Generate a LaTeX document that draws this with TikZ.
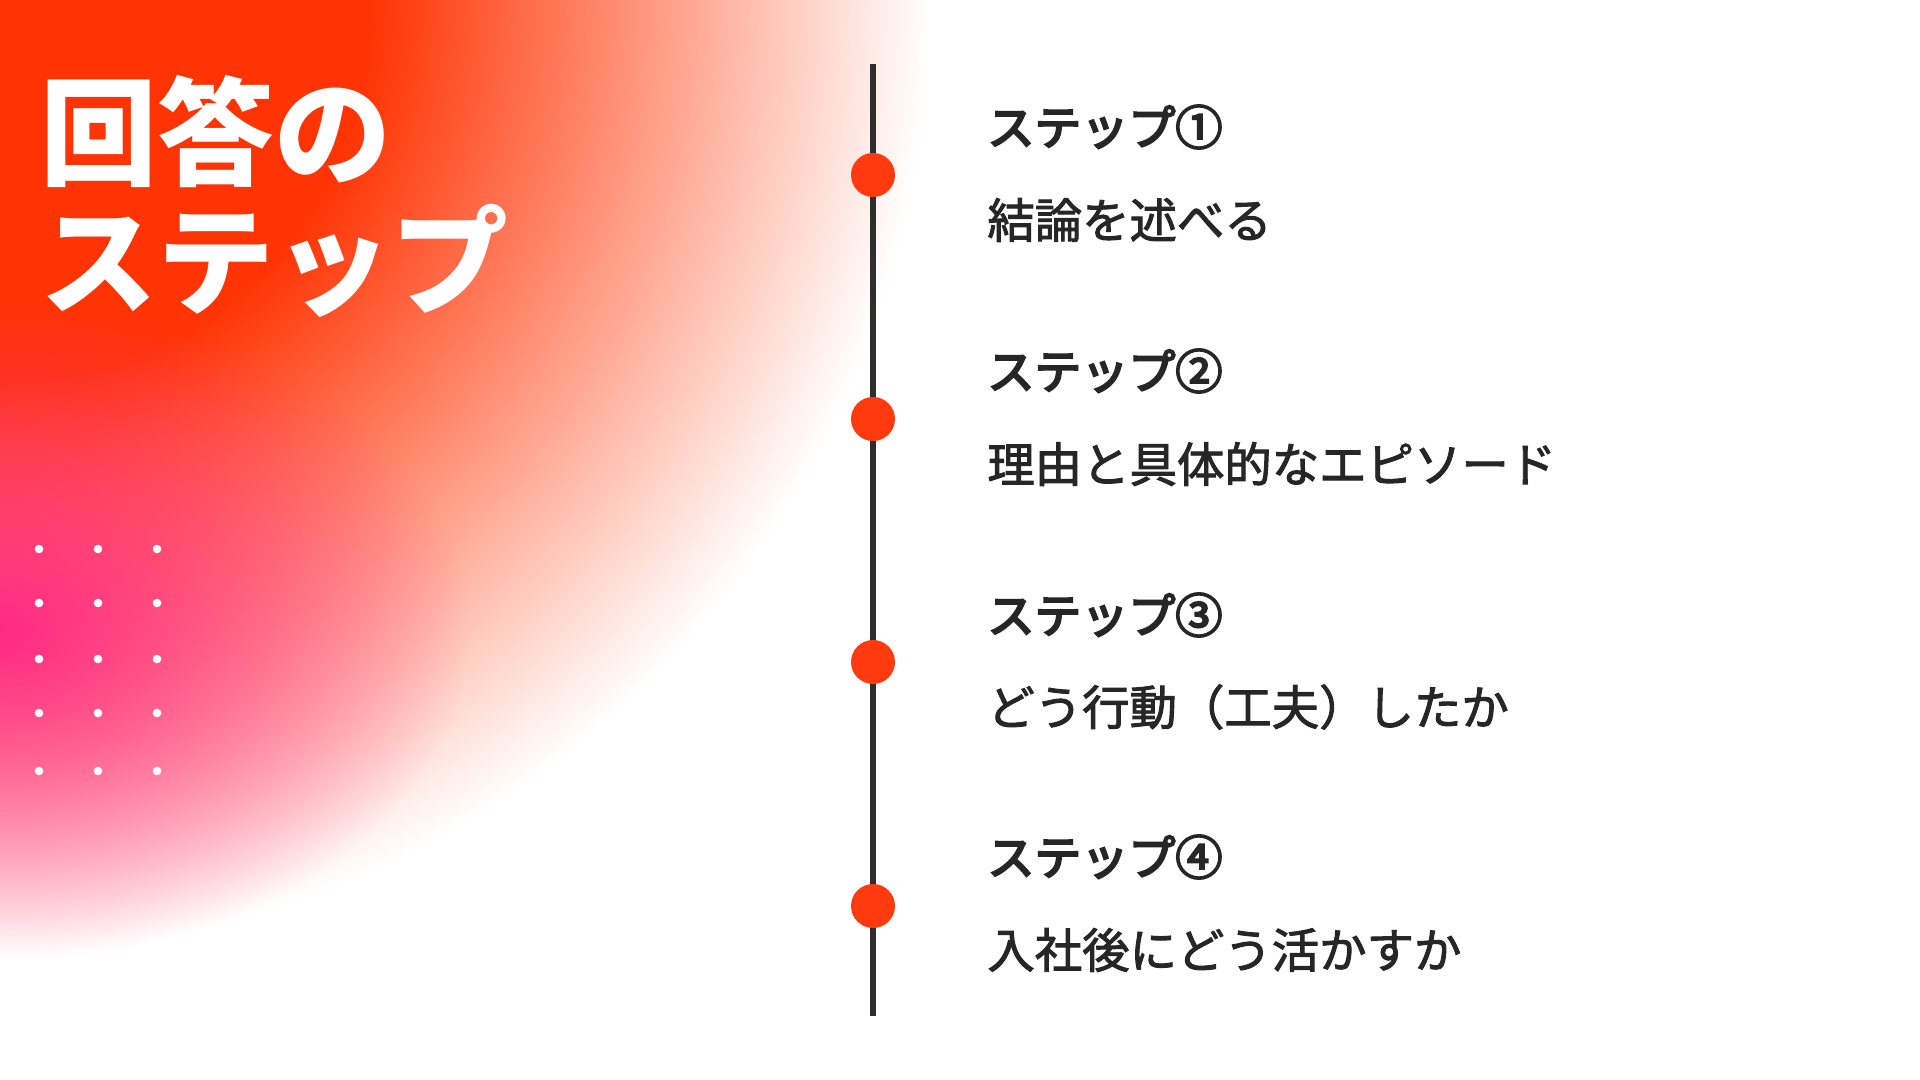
\documentclass[tikz,border=0pt]{standalone}
\usepackage{fontspec}
\newfontfamily\jp{Noto Sans CJK JP}
\newfontfamily\jphead[FakeBold=4.5]{Noto Sans CJK JP}
\newfontfamily\jpsub[FakeBold=2]{Noto Sans CJK JP}
\usetikzlibrary{fadings}
\definecolor{orangec}{HTML}{FF3404}
\definecolor{pinkc}{HTML}{FF2A85}
\definecolor{inkc}{HTML}{262626}
\definecolor{linec}{HTML}{2E2E2E}
\definecolor{dotc}{HTML}{FF3A0E}
\pgfdeclareradialshading{bgshade}{\pgfpoint{0bp}{0bp}}{color(0bp)=(orangec); color(10bp)=(orangec); color(25bp)=(white); color(50bp)=(white)}
\tikzfading[name=pinkfade, inner color=transparent!0, outer color=transparent!100]
\tikzset{
  stepdot/.style={circle, fill=dotc, minimum size=44pt*0.5, inner sep=0pt},
  headtxt/.style={anchor=west, inner sep=0pt, text=inkc, font=\jphead\fontsize{23.5pt}{28pt}\selectfont},
  subtxt/.style={anchor=west, inner sep=0pt, text=inkc, font=\jpsub\fontsize{23.7pt}{28pt}\selectfont},
  titletxt/.style={anchor=west, inner sep=0pt, text=white, font=\jp\bfseries\fontsize{58.5pt}{64pt}\selectfont},
  spine/.style={draw=linec, line width=3pt},
  griddot/.style={fill=white}
}
\begin{document}
\begin{tikzpicture}[x=0.5pt,y=-0.5pt]
\useasboundingbox (0,0) rectangle (1920,1080);
\fill[white] (0,0) rectangle (1920,1080);
\begin{scope}
  \clip (0,0) rectangle (1920,1080);
  \shade[shading=bgshade] (0,0) ellipse (930 and 950);
  \fill[pinkc, path fading=pinkfade] (0,630) ellipse (470 and 330);
\end{scope}
% dot grid
\foreach \gx in {39,98,157}{
  \foreach \gy in {549,603,659,713,771}{
    \fill[griddot] (\gx,\gy) circle (4.3);
  }
}
% title
\node[titletxt] (t1) at (40,132) {回答の};
\node[titletxt] (t2) at (40,261) {ステップ};
% timeline
\coordinate (ltop) at (873,64);
\coordinate (lbot) at (873,1016);
\draw[spine] (ltop) -- (lbot);
\node[stepdot] (d1) at (873,175) {};
\node[stepdot] (d2) at (873,419) {};
\node[stepdot] (d3) at (873,662) {};
\node[stepdot] (d4) at (873,906) {};
% texts
\node[headtxt] (h1) at (987,127) {ステップ①};
\node[subtxt] (s1) at (987,220) {結論を述べる};
\node[headtxt] (h2) at (987,371) {ステップ②};
\node[subtxt] (s2) at (987,464) {理由と具体的なエピソード};
\node[headtxt] (h3) at (987,615) {ステップ③};
\node[subtxt] (s3) at (987,707) {どう行動（工夫）したか};
\node[headtxt] (h4) at (987,857) {ステップ④};
\node[subtxt] (s4) at (987,950) {入社後にどう活かすか};
\end{tikzpicture}
\end{document}
